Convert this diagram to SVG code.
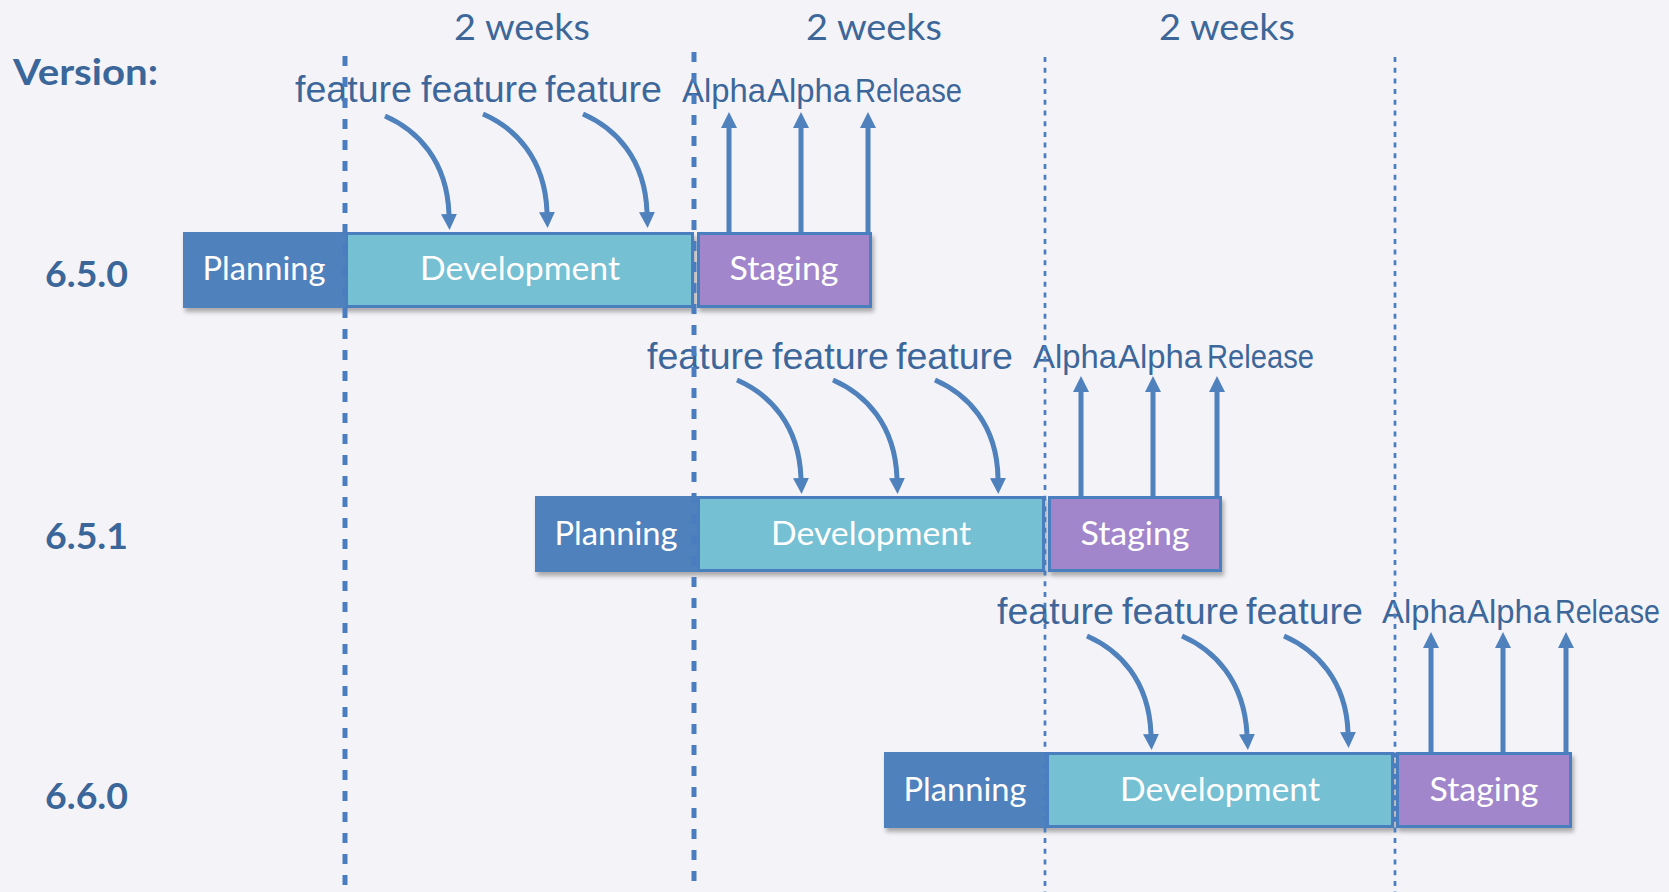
<svg xmlns="http://www.w3.org/2000/svg" width="1669" height="892" viewBox="0 0 1669 892">
  <style>
    .bg { fill: #f4f4f8; }
    .week { font-family: Lato, "Liberation Sans", sans-serif; font-size: 37.5px; fill: #3d6798; text-anchor: middle; }
    .ver { font-family: Lato, "Liberation Sans", sans-serif; font-weight: bold; font-size: 36px; fill: #3b6699; }
    .lbl { font-family: "Liberation Sans", Arial, sans-serif; fill: #3d679a; }
    .feat { font-size: 36px; }
    .alpha { font-size: 33px; }
    .box { font-family: Lato, "Liberation Sans", sans-serif; font-size: 33px; fill: #ffffff; text-anchor: middle; }
    .plan { fill: #4f81bd; }
    .dev { fill: #76c0d4; stroke: #4a7ebf; stroke-width: 3; }
    .stag { fill: #a286cc; stroke: #4a7ebf; stroke-width: 3; }
    .arr { fill: none; stroke: #4f81bd; stroke-width: 5; marker-end: url(#ah); }
    .dash1 { stroke: #4a7dbf; stroke-width: 5; stroke-dasharray: 10 11; fill: none; }
    .dash2 { stroke: #4a7dbf; stroke-width: 2.7; stroke-dasharray: 5 5.7; fill: none; }
  </style>
  <defs>
    <marker id="ah" markerUnits="userSpaceOnUse" markerWidth="17" markerHeight="17" viewBox="0 -8.5 17 17" refX="0" refY="0" orient="auto">
      <path d="M0,-8 L16,0 L0,8 z" fill="#4f81bd"/>
    </marker>
    <filter id="sh" x="-5%" y="-20%" width="110%" height="160%">
      <feDropShadow dx="2" dy="4" stdDeviation="2" flood-color="#000000" flood-opacity="0.3"/>
    </filter>
  </defs>

  <rect class="bg" x="0" y="0" width="1669" height="892"/>

  <!-- header labels -->
  <g id="weeks">
    <text id="week1" class="week" x="522" y="40" textLength="136" lengthAdjust="spacingAndGlyphs">2 weeks</text>
    <text id="week2" class="week" x="874" y="40" textLength="136" lengthAdjust="spacingAndGlyphs">2 weeks</text>
    <text id="week3" class="week" x="1227" y="40" textLength="136" lengthAdjust="spacingAndGlyphs">2 weeks</text>
  </g>
  <g id="versions">
    <text id="version-title" class="ver" x="13" y="85" textLength="145" lengthAdjust="spacingAndGlyphs">Version:</text>
    <text id="v650" class="ver" x="45" y="287" font-size="35" textLength="83" lengthAdjust="spacingAndGlyphs">6.5.0</text>
    <text id="v651" class="ver" x="45" y="549" font-size="35" textLength="83" lengthAdjust="spacingAndGlyphs">6.5.1</text>
    <text id="v660" class="ver" x="45" y="809" font-size="35" textLength="83" lengthAdjust="spacingAndGlyphs">6.6.0</text>
  </g>

  <!-- Row 1: 6.5.0 -->
  <g id="row1" filter="url(#sh)">
    <g id="r1-planning"><rect class="plan" x="183" y="232" width="162" height="76"/></g>
    <g id="r1-development"><rect class="dev" x="346.5" y="233.5" width="346" height="73"/></g>
    <g id="r1-staging"><rect class="stag" x="698.5" y="233.5" width="172" height="73"/></g>
  </g>
  <text class="box" x="264" y="280" textLength="123" lengthAdjust="spacingAndGlyphs">Planning</text>
  <text class="box" x="520" y="280" textLength="200" lengthAdjust="spacingAndGlyphs">Development</text>
  <text class="box" x="784" y="280" textLength="109" lengthAdjust="spacingAndGlyphs">Staging</text>

  <!-- Row 2: 6.5.1 -->
  <g id="row2" filter="url(#sh)">
    <g id="r2-planning"><rect class="plan" x="535" y="496" width="162" height="76"/></g>
    <g id="r2-development"><rect class="dev" x="698.5" y="497.5" width="345" height="73"/></g>
    <g id="r2-staging"><rect class="stag" x="1049.5" y="497.5" width="171" height="73"/></g>
  </g>
  <text class="box" x="616" y="545" textLength="123" lengthAdjust="spacingAndGlyphs">Planning</text>
  <text class="box" x="871" y="545" textLength="200" lengthAdjust="spacingAndGlyphs">Development</text>
  <text class="box" x="1135" y="545" textLength="109" lengthAdjust="spacingAndGlyphs">Staging</text>

  <!-- Row 3: 6.6.0 -->
  <g id="row3" filter="url(#sh)">
    <g id="r3-planning"><rect class="plan" x="884" y="752" width="162" height="76"/></g>
    <g id="r3-development"><rect class="dev" x="1047.5" y="753.5" width="345" height="73"/></g>
    <g id="r3-staging"><rect class="stag" x="1397.5" y="753.5" width="173" height="73"/></g>
  </g>
  <text class="box" x="965" y="801" textLength="123" lengthAdjust="spacingAndGlyphs">Planning</text>
  <text class="box" x="1220" y="801" textLength="200" lengthAdjust="spacingAndGlyphs">Development</text>
  <text class="box" x="1484" y="801" textLength="109" lengthAdjust="spacingAndGlyphs">Staging</text>

  <!-- feature / alpha labels -->
  <g id="labels-row1" class="lbl">
    <text class="feat" x="295" y="102" textLength="117" lengthAdjust="spacingAndGlyphs">feature</text>
    <text class="feat" x="421" y="102" textLength="117" lengthAdjust="spacingAndGlyphs">feature</text>
    <text class="feat" x="545" y="102" textLength="117" lengthAdjust="spacingAndGlyphs">feature</text>
    <text class="alpha" x="682" y="102" textLength="84" lengthAdjust="spacingAndGlyphs">Alpha</text>
    <text class="alpha" x="767" y="102" textLength="84" lengthAdjust="spacingAndGlyphs">Alpha</text>
    <text class="alpha" x="855" y="102" textLength="107" lengthAdjust="spacingAndGlyphs">Release</text>
  </g>
  <g id="labels-row2" class="lbl">
    <text class="feat" x="647" y="369" textLength="117" lengthAdjust="spacingAndGlyphs">feature</text>
    <text class="feat" x="772" y="369" textLength="117" lengthAdjust="spacingAndGlyphs">feature</text>
    <text class="feat" x="896" y="369" textLength="117" lengthAdjust="spacingAndGlyphs">feature</text>
    <text class="alpha" x="1033" y="368" textLength="84" lengthAdjust="spacingAndGlyphs">Alpha</text>
    <text class="alpha" x="1118" y="368" textLength="84" lengthAdjust="spacingAndGlyphs">Alpha</text>
    <text class="alpha" x="1207" y="368" textLength="107" lengthAdjust="spacingAndGlyphs">Release</text>
  </g>
  <g id="labels-row3" class="lbl">
    <text class="feat" x="997" y="624" textLength="117" lengthAdjust="spacingAndGlyphs">feature</text>
    <text class="feat" x="1122" y="624" textLength="117" lengthAdjust="spacingAndGlyphs">feature</text>
    <text class="feat" x="1246" y="624" textLength="117" lengthAdjust="spacingAndGlyphs">feature</text>
    <text class="alpha" x="1382" y="623" textLength="84" lengthAdjust="spacingAndGlyphs">Alpha</text>
    <text class="alpha" x="1467" y="623" textLength="84" lengthAdjust="spacingAndGlyphs">Alpha</text>
    <text class="alpha" x="1555" y="623" textLength="105" lengthAdjust="spacingAndGlyphs">Release</text>
  </g>

  <!-- connectors -->
  <g id="connectors">
    <path class="arr" d="M385,116 c32,14 62,44 64,98"/>
    <path class="arr" d="M483,114 c32,14 62,44 64,98"/>
    <path class="arr" d="M583,114 c32,14 62,44 64,98"/>
    <path class="arr" d="M729,232 V128"/>
    <path class="arr" d="M801,232 V128"/>
    <path class="arr" d="M868,232 V128"/>

    <path class="arr" d="M737,380 c32,14 62,44 64,98"/>
    <path class="arr" d="M833,380 c32,14 62,44 64,98"/>
    <path class="arr" d="M935,380 c32,14 62,44 63,98"/>
    <path class="arr" d="M1081,496 V392"/>
    <path class="arr" d="M1153,496 V392"/>
    <path class="arr" d="M1217,496 V392"/>

    <path class="arr" d="M1087,636 c32,14 62,44 64,98"/>
    <path class="arr" d="M1182,636 c32,14 62,44 65,98"/>
    <path class="arr" d="M1284,636 c32,14 62,44 64,96"/>
    <path class="arr" d="M1431,752 V648"/>
    <path class="arr" d="M1503,752 V648"/>
    <path class="arr" d="M1566,752 V648"/>
  </g>

  <!-- sprint boundaries -->
  <g id="boundaries">
    <line class="dash1" x1="345" y1="56" x2="345" y2="892"/>
    <line class="dash1" x1="694" y1="52" x2="694" y2="892"/>
    <line class="dash2" x1="1045" y1="57" x2="1045" y2="892"/>
    <line class="dash2" x1="1395" y1="57" x2="1395" y2="892"/>
  </g>
</svg>
